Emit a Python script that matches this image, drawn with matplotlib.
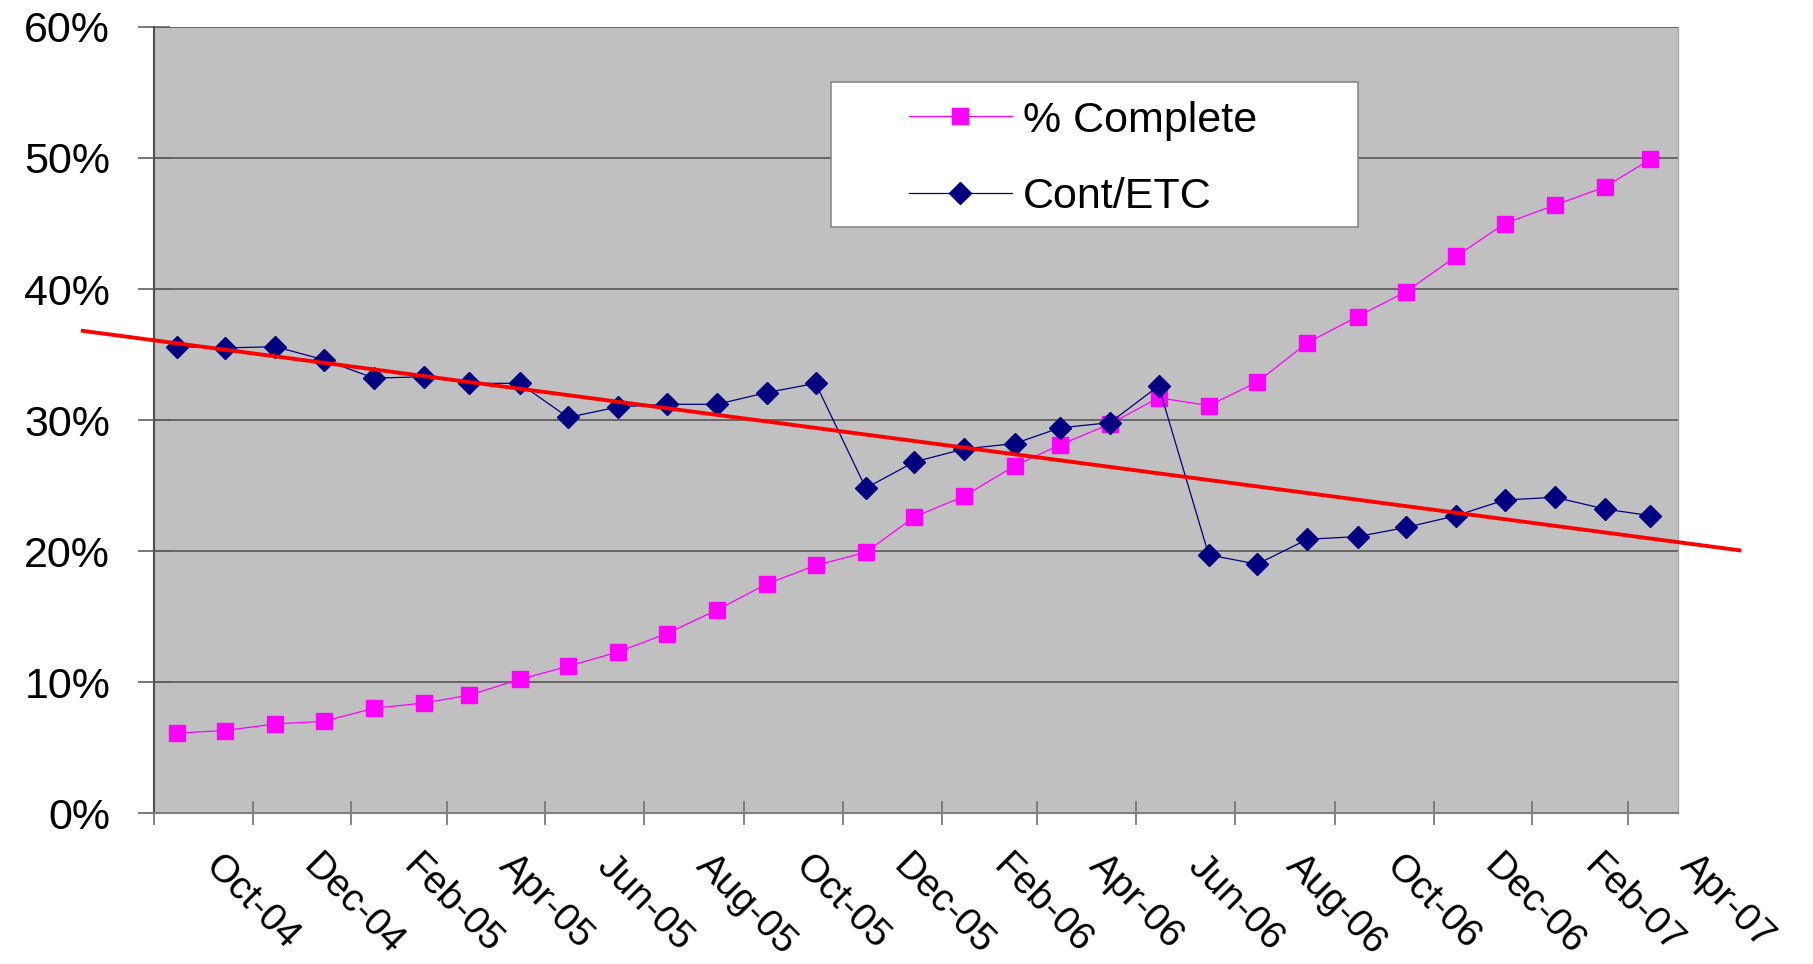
import numpy as np
import pandas as pd
import matplotlib
matplotlib.use("Agg")
import matplotlib.pyplot as plt
import matplotlib.dates as mdates
import matplotlib.transforms as mtransforms
from matplotlib.patches import Rectangle
from matplotlib.ticker import FuncFormatter, NullFormatter

plt.rcParams['font.family'] = ['Liberation Sans', 'DejaVu Sans']

# monthly readings, Sep-04 .. Mar-07 (mid month)
months = pd.date_range("2004-09-01", periods=31, freq="MS") + pd.Timedelta(days=14)

pct_complete = [6.1, 6.3, 6.8, 7.0, 8.0, 8.4, 9.0, 10.2, 11.2, 12.3,
                13.7, 15.5, 17.5, 18.9, 19.9, 22.6, 24.2, 26.5, 28.1, 29.7,
                31.7, 31.1, 32.9, 35.9, 37.9, 39.8, 42.5, 45.0, 46.4, 47.8,
                49.9]
cont_etc = [35.6, 35.5, 35.6, 34.6, 33.2, 33.3, 32.8, 32.8, 30.2, 31.0,
            31.2, 31.2, 32.1, 32.8, 24.8, 26.8, 27.8, 28.2, 29.4, 29.8,
            32.6, 19.7, 19.0, 20.9, 21.1, 21.8, 22.7, 23.9, 24.1, 23.2,
            22.7]

x_start = pd.Timestamp("2004-09-01")
x_end = pd.Timestamp("2007-04-01")

fig = plt.figure(figsize=(18.13, 9.64), dpi=100)
ax = fig.add_axes([0.0849, 0.1566, 0.8406, 0.8154])
ax.set_facecolor('#c0c0c0')

xnum = mdates.date2num(months)

ax.plot(xnum, pct_complete, color='#ff00ff', lw=0.9, marker='s', ms=12,
        mec='#ff00ff', mfc='#ff00ff', label='% Complete', zorder=3)
ax.plot(xnum, cont_etc, color='#000080', lw=0.9, marker='D', ms=11,
        mec='#000080', mfc='#000080', label='Cont/ETC', zorder=3)

# linear trend of Cont/ETC, forecast ~2 months both ways (as in Excel)
slope, icpt = np.polyfit(xnum, cont_etc, 1)
tx = np.array([xnum[0] - 58, xnum[-1] + 55])
ax.plot(tx, slope * tx + icpt, color='#ff0000', lw=2.8, clip_on=False, zorder=4)

ax.set_ylim(0, 60)
ax.set_yticks(range(0, 61, 10))
ax.yaxis.set_major_formatter(FuncFormatter(lambda v, p: f"{v:.0f}%"))
ax.yaxis.grid(True, color='#5f5f5f', lw=1.3)
ax.set_axisbelow(True)
ax.tick_params(axis='y', direction='inout', length=23, width=1.2,
               color='#606060', pad=20, labelsize=31)

ax.set_xlim(mdates.date2num(x_start), mdates.date2num(x_end))
ax.xaxis.set_major_locator(mdates.MonthLocator(bymonth=(1, 3, 5, 7, 9, 11)))
ax.xaxis.set_major_formatter(NullFormatter())
ax.xaxis.set_minor_locator(mdates.MonthLocator(bymonth=(2, 4, 6, 8, 10, 12)))
ax.xaxis.set_minor_formatter(mdates.DateFormatter('%b-%y'))
ax.tick_params(axis='x', which='major', direction='inout', length=17,
               width=1.2, color='#707070')
ax.tick_params(axis='x', which='minor', length=0, pad=25, labelsize=28)
shift = mtransforms.ScaledTranslation(0.2, 0, fig.dpi_scale_trans)
for lab in ax.get_xticklabels(minor=True):
    lab.set_rotation(-45)
    lab.set_ha('left')
    lab.set_va('top')
    lab.set_rotation_mode('anchor')
    lab.set_transform(lab.get_transform() + shift)

ax.spines['top'].set_visible(False)
ax.spines['left'].set_color('#505050')
ax.spines['left'].set_linewidth(1.5)
ax.spines['bottom'].set_color('#808080')
ax.spines['bottom'].set_linewidth(1.5)
ax.spines['right'].set_color('#a8a8a8')
ax.spines['right'].set_linewidth(1.0)

# legend box
ax.add_patch(Rectangle((831 / 1813, 1 - 227 / 964), 527 / 1813, 145 / 964,
                       transform=fig.transFigure, facecolor='white',
                       edgecolor='#8a8a8a', lw=1.2, zorder=4.5, clip_on=False))
ax.legend(loc='upper left', bbox_to_anchor=(887 / 1813, 1 - 79 / 964),
          bbox_transform=fig.transFigure, frameon=False, borderpad=0,
          handlelength=2.4, handletextpad=0.25, labelspacing=0.85,
          fontsize=31)

fig.savefig("out.png", dpi=100)
